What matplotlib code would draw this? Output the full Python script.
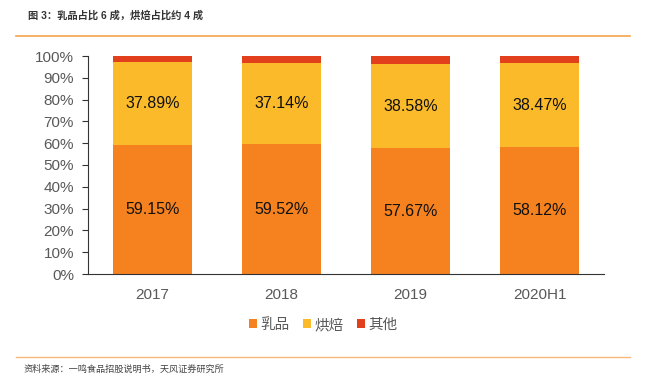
import matplotlib.pyplot as plt
import numpy as np

plt.rcParams['font.family'] = ['Liberation Sans', 'Noto Sans CJK SC', 'DejaVu Sans']

# data
years = ['2017', '2018', '2019', '2020H1']
dairy = [59.15, 59.52, 57.67, 58.12]
bakery = [37.89, 37.14, 38.58, 38.47]
other = [100 - d - b for d, b in zip(dairy, bakery)]
series_names = ['乳品', '烘焙', '其他']

colors = ['#F5821F', '#FBBA2A', '#E2401C']

W, H = 645, 377
fig = plt.figure(figsize=(W / 100, H / 100), dpi=100)

# axes placed in pixel coordinates
left, right, top, bottom = 88, 604, 56, 274
ax = fig.add_axes([left / W, 1 - bottom / H, (right - left) / W, (bottom - top) / H])

x = np.arange(len(years))
width = 0.62
ax.bar(x, dairy, width, color=colors[0], label=series_names[0])
ax.bar(x, bakery, width, bottom=dairy, color=colors[1], label=series_names[1])
ax.bar(x, other, width, bottom=np.array(dairy) + np.array(bakery),
       color=colors[2], label=series_names[2])

# value labels
for i in range(len(years)):
    ax.text(x[i], dairy[i] / 2, f'{dairy[i]:.2f}%', ha='center', va='center',
            fontsize=11.5, color='#111111')
    ax.text(x[i], dairy[i] + bakery[i] / 2, f'{bakery[i]:.2f}%', ha='center',
            va='center', fontsize=11.5, color='#111111')

ax.set_xlim(-0.5, len(years) - 0.5)
ax.set_ylim(0, 100)
ax.set_yticks(np.arange(0, 101, 10))
ax.set_yticklabels([f'{v}%' for v in range(0, 101, 10)])
ax.set_xticks(x)
ax.set_xticklabels(years)

for s in ['top', 'right']:
    ax.spines[s].set_visible(False)
for s in ['left', 'bottom']:
    ax.spines[s].set_color('#333333')
    ax.spines[s].set_linewidth(0.8)
ax.tick_params(axis='y', length=4, width=0.8, color='#333333', labelsize=11,
               labelcolor='#595959', pad=6)
ax.tick_params(axis='x', length=0, labelsize=11, labelcolor='#595959', pad=10)

leg = fig.legend(loc='center', bbox_to_anchor=(323 / W, 1 - 325 / H), ncol=3,
                 frameon=False, fontsize=10.5, handlelength=0.55, handleheight=0.55,
                 handletextpad=0.25, columnspacing=0.9)
for t in leg.get_texts():
    t.set_color('#595959')

# header and footer
fig.text(28 / W, 1 - 16 / H, '图 3：乳品占比 6 成，烘焙占比约 4 成', fontsize=7.4,
         color='#333333', va='center', ha='left', weight='bold')
fig.add_artist(plt.Line2D([16 / W, 630 / W], [1 - 36 / H, 1 - 36 / H],
                          color='#F7A24A', lw=1.2))
fig.add_artist(plt.Line2D([16 / W, 630 / W], [1 - 357 / H, 1 - 357 / H],
                          color='#F9B77A', lw=1.0))
fig.text(24 / W, 1 - 369 / H, '资料来源：一鸣食品招股说明书，天风证券研究所', fontsize=6.6,
         color='#444444', va='center', ha='left')

fig.savefig('out.png', dpi=100)
